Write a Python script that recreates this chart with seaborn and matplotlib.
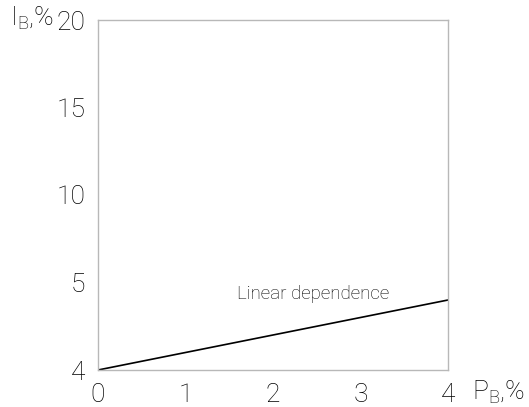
import numpy as np
import matplotlib
matplotlib.use('Agg')
import matplotlib.pyplot as plt
import seaborn as sns

# Data
p_values = [0, 4]          # P_B, %
i_values = [4, 4.8]        # I_B, %
y_ticks = [4, 5, 10, 15, 20]
x_ticks = [0, 1, 2, 3, 4]

# Setting plotting style
sns.set_style('white')
plt.rcParams['font.family'] = ['Roboto', 'DejaVu Sans']
plt.rcParams['font.weight'] = 'light'
plt.rcParams['mathtext.default'] = 'regular'

# y ticks are drawn evenly spaced on the original chart
tick_pos = np.linspace(0, 1, len(y_ticks))

def fwd(v):
    return np.interp(v, y_ticks, tick_pos)

def inv(v):
    return np.interp(v, tick_pos, y_ticks)

fig = plt.figure(figsize=(5.29, 4.07), dpi=100)
ax = fig.add_axes([98 / 529, 37 / 407, 350 / 529, 350 / 407])

sns.lineplot(x=p_values, y=i_values, color='black', linewidth=1.2, ax=ax)

ax.set_yscale('function', functions=(fwd, inv))
ax.set_xlim(0, 4)
ax.set_ylim(4, 20)
ax.set_xticks(x_ticks)
ax.set_yticks(y_ticks)
ax.tick_params(length=0, labelsize=19, pad=9, colors='black')
for lbl in ax.get_xticklabels() + ax.get_yticklabels():
    lbl.set_fontweight('light')

for s in ax.spines.values():
    s.set_color('#b8b8b8')
    s.set_linewidth(1)

ax.text(1.59, 4.87, 'Linear dependence', fontsize=13.5, fontweight='light',
        color='black', ha='left', va='center')

ax.set_ylabel('$I_{В}$,%', rotation=0, fontsize=19, fontweight='light',
              color='black', ha='right', va='center')
ax.yaxis.set_label_coords(-0.125, 1.005)
ax.set_xlabel('$P_{В}$,%', fontsize=19, fontweight='light',
              color='black', ha='left', va='center')
ax.xaxis.set_label_coords(1.07, -0.063)

fig.savefig('out.png', dpi=100)
